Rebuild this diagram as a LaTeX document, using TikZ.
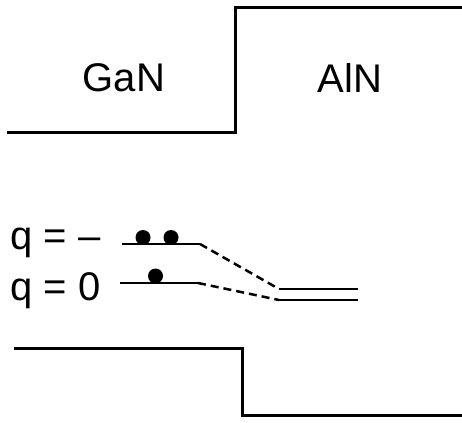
\documentclass[tikz,border=0pt]{standalone}
\usepackage{fontspec}
\setmainfont{Liberation Sans}
\begin{document}
\begin{tikzpicture}[x=1pt,y=-1pt,
  band/.style={line width=3pt,line join=miter},
  level/.style={line width=2.5pt},
  link/.style={line width=2.5pt,dash pattern=on 8pt off 5pt},
  electron/.style={circle,fill=black,inner sep=0pt,minimum size=15pt},
  lbl/.style={font=\fontsize{40}{44}\selectfont,inner sep=0pt}]
\useasboundingbox (0,0) rectangle (462,422);
% conduction band edge
\coordinate (cb1) at (7,133);
\coordinate (cb2) at (235,133);
\coordinate (cb3) at (235,8);
\coordinate (cb4) at (462,8);
\draw[band] (cb1) -- (cb2) -- (cb3) -- (cb4);
% valence band edge
\coordinate (vb1) at (14,348);
\coordinate (vb2) at (242,348);
\coordinate (vb3) at (242,415);
\coordinate (vb4) at (462,415);
\draw[band] (vb1) -- (vb2) -- (vb3) -- (vb4);
% material labels
\node[lbl] (gan) at (124,78) {GaN};
\node[lbl] (aln) at (350,78) {AlN};
% charge-state labels
\node[lbl,anchor=base west] (qm) at (10,249) {q = –};
\node[lbl,anchor=base west] (q0) at (10,300) {q = 0};
% defect levels
\coordinate (m1) at (122,244);
\coordinate (m2) at (200,244);
\coordinate (z1) at (120,283);
\coordinate (z2) at (198,283);
\node[electron] (e1) at (143,237.5) {};
\node[electron] (e2) at (171,237.5) {};
\node[electron] (e3) at (155.5,276) {};
\draw[level] (m1) -- (m2);
\draw[level] (z1) -- (z2);
% levels on the AlN side
\coordinate (a1) at (279,289);
\coordinate (a2) at (358,289);
\coordinate (b1) at (279,300);
\coordinate (b2) at (358,300);
\draw[level] (a1) -- (a2);
\draw[level] (b1) -- (b2);
% correlation lines
\draw[link] (m2) -- (a1);
\draw[link] (z2) -- (b1);
\end{tikzpicture}
\end{document}
